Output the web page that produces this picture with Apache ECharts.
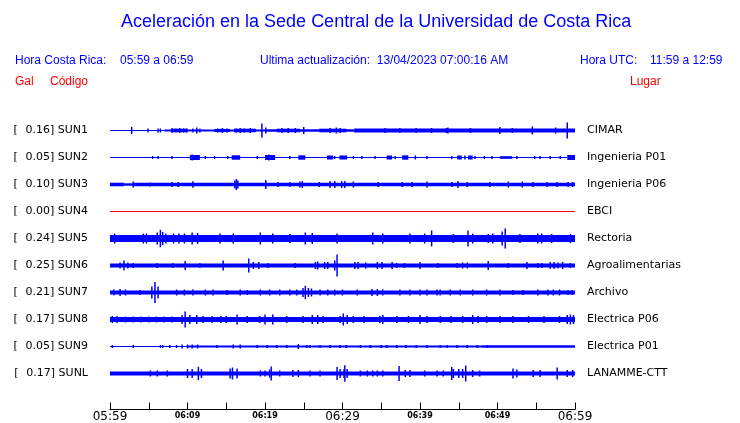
<!DOCTYPE html>
<html>
<head>
<meta charset="utf-8">
<script src="https://cdn.jsdelivr.net/npm/echarts@6/dist/echarts.min.js"></script>
<style>
  html, body { margin: 0; padding: 0; background: #fff; }
  #chart { width: 740px; height: 423px; }
</style>
</head>
<body>
<div id="chart"></div>
<script>
// estaciones (de arriba hacia abajo)
const codes = ['SUN1', 'SUN2', 'SUN3', 'SUN4', 'SUN5', 'SUN6', 'SUN7', 'SUN8', 'SUN9', 'SUNL'];
const gal = ['0.16', '0.05', '0.10', '0.00', '0.24', '0.25', '0.21', '0.17', '0.05', '0.17'];
const places = ['CIMAR', 'Ingenieria P01', 'Ingenieria P06', 'EBCI', 'Rectoria',
  'Agroalimentarias', 'Archivo', 'Electrica P06', 'Electrica P01', 'LANAMME-CTT'];
const traceColors = ['#0000ff', '#0000ff', '#0000ff', '#ff0000', '#0000ff',
  '#0000ff', '#0000ff', '#0000ff', '#0000ff', '#0000ff'];
// etiquetas del eje de tiempo, cada 10 minutos (minuto 0 = 05:59)
const tickLabels = ['05:59', '06:09', '06:19', '06:29', '06:39', '06:49', '06:59'];

// envolvente de fondo: [minuto inicio, minuto fin, semiamplitud]
// picos: [minuto, semiamplitud]
const sun1Bands = [[0, 7, 0.5], [7, 20, 0.9], [20, 31.5, 1.2], [31.5, 60, 2],
  [8, 10, 1.8], [13.5, 15.5, 1.6], [16, 18.8, 1.8], [21.5, 24.5, 1.8], [27, 30.5, 1.8]];
const sun1Spikes = [[2.8, 3.5], [4.9, 2], [6.2, 2], [6.5, 2], [8, 2.5], [8.5, 2], [9, 2.5], [9.5, 2],
  [9.9, 2], [10.7, 2], [11.2, 3], [11.6, 2], [13.9, 2], [14.5, 2.5], [15.1, 2], [16.3, 2], [16.8, 2.5],
  [17.3, 2], [18.1, 2.5], [19.6, 7], [20.1, 3], [22.2, 2.5], [23, 2.5], [23.9, 2.5], [25, 3.5],
  [28.4, 2.5], [29.2, 3], [29.7, 2.5], [35.5, 2.5], [37.4, 2.5], [39.5, 2.5], [41.5, 2.5], [43.4, 2.5],
  [43.6, 3], [46.5, 2.5], [50.3, 3.5], [51.9, 2.5], [54.5, 4], [57.5, 3], [59, 8]];

const sun2Bands = [[0, 59, 0.5], [59, 60, 2.5], [10.3, 11.6, 2.5], [15.7, 16.8, 2.2], [20, 21.3, 2.5],
  [24.3, 25.2, 2.2], [28, 28.8, 2], [29.6, 30.6, 2], [35.7, 36.4, 2], [37.7, 38.5, 2.2],
  [44.8, 45.4, 2], [46.2, 46.8, 2], [50.3, 51.9, 1.3]];
const sun2Spikes = [[5.5, 1.5], [6.2, 1.5], [8, 1.5], [10.6, 3], [12.3, 1.5], [13.5, 1.5], [15.2, 1.5],
  [19, 1.5], [20.5, 3], [23.2, 1.5], [29, 1.5], [31.4, 1.5], [32.5, 1.5], [34.2, 1.5], [36.8, 1.5],
  [39.4, 2], [40.9, 1.5], [44.1, 1.5], [45.8, 2], [47.1, 1.5], [48.3, 1.5], [49.3, 1.5], [52.5, 1.5],
  [54.8, 1.5], [55.5, 1.5], [56.8, 1.5], [58.1, 1.5]];

const sun3Bands = [[0, 1.8, 1.8], [1.8, 3, 1.2], [3, 60, 1.8]];
const sun3Spikes = [[3, 3], [5.2, 2], [8, 2.5], [8.8, 2.5], [10.7, 3.3], [16.1, 4], [16.3, 5.5],
  [16.5, 4], [20.1, 4.5], [21.7, 2.5], [23.2, 2.5], [24.5, 3], [24.8, 3.5], [27, 2.5], [28.4, 3.5],
  [29, 3.5], [29.9, 3.5], [30.3, 3.5], [31.4, 3], [34.6, 2.5], [37.7, 2.5], [39, 2.5], [40.9, 3],
  [44.1, 2.5], [44.9, 3.5], [46.1, 2.5], [49, 2.5], [51.4, 3], [53.2, 3], [54.6, 2.5], [56.4, 2.5],
  [57.7, 2.5], [59.1, 2.5], [59.7, 2.5]];

const sun4Bands = [[0, 60, 0.5]];
const sun4Spikes = [];

const sun5Bands = [[0, 60, 3.5]];
const sun5Spikes = [[0.6, 5], [4.3, 5], [4.7, 5], [6.1, 6], [6.5, 8.7], [6.8, 6.5], [7.2, 5],
  [8.2, 5], [8.9, 5], [9.6, 5], [10.6, 6], [11.3, 5.5], [14.2, 5], [15.9, 5], [19.4, 6], [21, 5],
  [23.2, 4.5], [25.2, 6], [26.1, 5.5], [29.3, 5], [33.9, 6], [35.2, 5], [38.7, 5], [40.6, 5],
  [41.5, 8], [44.3, 4.5], [46.2, 8], [46.8, 5], [48.8, 4.5], [49.4, 5], [50.6, 7], [51, 10],
  [52.9, 4.5], [55.2, 5], [55.7, 5], [57, 4.5], [59.4, 4.5]];

const sun6Bands = [[0, 60, 2]];
const sun6Spikes = [[1.3, 3], [1.8, 5], [2.3, 3], [3, 2.5], [6.1, 2.5], [8.1, 2.5], [9.7, 4.5],
  [11.6, 2.5], [14.6, 5], [17.9, 7], [18.5, 3.5], [19.2, 3.5], [20.4, 2.5], [23.9, 2.5], [26.5, 3.5],
  [26.8, 4], [27.7, 3.5], [28.1, 3.5], [29, 5], [29.3, 11], [31.6, 3.5], [32, 3.5], [33, 3],
  [34.5, 3.5], [35.1, 3.5], [36.4, 3.5], [37, 2.5], [38, 2.5], [40, 3.5], [42.3, 2.5], [44.8, 2.5],
  [45.5, 3], [46.1, 3], [48.8, 4.5], [51.4, 2.5], [53.8, 3.5], [55.2, 2.5], [55.7, 2.5], [56.8, 3.5],
  [57.3, 3.5], [57.8, 3], [58.4, 3.5], [59.4, 2.5]];

const sun7Bands = [[0, 60, 2]];
const sun7Spikes = [[0.5, 3], [1.3, 3.5], [2, 3], [3.9, 2.5], [5.4, 6], [5.8, 10.5], [6.2, 6],
  [8.6, 3], [9.6, 3], [10.7, 3], [12.3, 3], [13.3, 3], [15.1, 2.5], [16.8, 3], [17.7, 2.5], [19.4, 3],
  [20.6, 3], [21.9, 3], [23.2, 3], [24.1, 3], [24.9, 4.5], [25.2, 6.7], [25.6, 4.5], [26, 4],
  [27.1, 3], [28.1, 3], [29, 3], [30, 3], [31.9, 3], [33.8, 3.5], [34.5, 3.5], [35.2, 3], [37.4, 3],
  [38.7, 3], [40, 3], [40.9, 3], [42.2, 3], [42.6, 3], [43.9, 3], [45.2, 3], [46.8, 3], [48.6, 3],
  [50.3, 3], [52, 2.5], [53.3, 2.5], [55.2, 3], [56.5, 3], [57.2, 3], [58, 3], [59.1, 2.5], [59.6, 2.5]];

const sun8Bands = [[0, 60, 2.5]];
const sun8Spikes = [[0.3, 3.5], [0.9, 3.5], [2, 3], [3, 3], [4, 3], [5, 3], [6, 3], [7, 3], [8, 3],
  [9.3, 4.5], [9.7, 8], [10.3, 4.5], [11.2, 4.5], [12, 3.5], [13.2, 3.5], [14.3, 3.5], [15, 3.5],
  [16.4, 5], [17.7, 3.5], [19.3, 3.5], [20, 5], [21, 5], [22.8, 3.5], [24.9, 3.5], [26.1, 4.5],
  [26.8, 4.5], [27.5, 3.5], [29.7, 3.5], [30.1, 6], [30.6, 4.5], [31.4, 3.5], [32.8, 3.5], [34.8, 3.5],
  [35.2, 4.5], [37, 3.5], [38.5, 3.5], [40, 4.5], [40.9, 3.5], [42.6, 3.5], [44, 3.5], [45.5, 3.5],
  [46.8, 4.5], [47.5, 3.5], [48.6, 3.5], [50.3, 3.5], [52, 3.5], [54, 3.5], [56, 3.5], [58, 3.5],
  [59, 4.5], [59.4, 5], [59.8, 4.5]];

const sun9Bands = [[0, 10, 0.5], [10, 48, 0.9], [48, 60, 1.3]];
const sun9Spikes = [[0.3, 1.5], [3, 1.5], [6.5, 1.5], [6.8, 1.5], [7.7, 1.5], [8.6, 1.5], [9.3, 2],
  [10, 2], [10.6, 2], [11.3, 2], [13.8, 1.5], [15.9, 2], [16.8, 2], [19, 1.5], [20.3, 1.5], [21.5, 1.5],
  [22.8, 1.5], [24.3, 2.5], [25.4, 1.5], [25.8, 1.5], [27.1, 1.5], [28.4, 1.5], [29.7, 1.5], [30.5, 1.5],
  [32.3, 1.5], [33.6, 1.5], [35, 1.5], [35.7, 1.5], [37, 1.5], [38.2, 1.5], [39.5, 1.5], [40.9, 1.5],
  [42.6, 1.5], [43.5, 1.5], [44.8, 1.5], [46.1, 1.5], [47.4, 1.5], [48.7, 1.5]];

const sunLBands = [[0, 60, 2]];
const sunLSpikes = [[5.2, 3], [6.1, 3], [7.4, 3], [10, 4.5], [10.6, 4.5], [11.4, 6.7], [11.8, 4.5],
  [15.5, 5], [15.8, 6], [16.4, 5], [19.4, 3], [20, 3], [20.6, 4], [20.8, 7], [21.9, 3], [23.6, 3.5],
  [24.3, 3.5], [25.8, 3], [27.1, 3], [29.3, 6.5], [29.7, 4.5], [30.2, 4.5], [30.3, 8.3], [30.6, 4.5],
  [32.3, 3], [33.2, 3], [33.9, 3], [34.5, 3], [35.2, 3], [37.3, 7.5], [38.1, 3.5], [38.7, 3.5],
  [40.6, 3], [42.2, 3], [43, 3], [44.1, 6.5], [44.3, 4.5], [45, 4.5], [45.5, 4.5], [45.9, 8],
  [46.8, 3.5], [47.7, 3], [52, 5], [52.5, 4], [54.6, 3.5], [55.5, 3.5], [57.7, 6], [59, 3.5], [59.7, 3.5]];

const traceBands = [sun1Bands, sun2Bands, sun3Bands, sun4Bands, sun5Bands,
  sun6Bands, sun7Bands, sun8Bands, sun9Bands, sunLBands];
const traceSpikes = [sun1Spikes, sun2Spikes, sun3Spikes, sun4Spikes, sun5Spikes,
  sun6Spikes, sun7Spikes, sun8Spikes, sun9Spikes, sunLSpikes];

const ROW = 27; // separacion entre trazas, en unidades del eje
const BLUE = '#0000ff';
const RED = '#ff0000';

function traceSeries(i) {
  const off = i * ROW;
  const color = traceColors[i];
  const data = traceBands[i].concat(traceSpikes[i].map(s => [s[0], s[0], s[1]]));
  return {
    type: 'custom',
    silent: true,
    animation: false,
    encode: { x: [0, 1], y: 2 },
    data: data,
    renderItem: function (params, api) {
      const t0 = api.value(0), t1 = api.value(1), a = api.value(2);
      const p1 = api.coord([t0, off - a]);
      const p2 = api.coord([t1, off + a]);
      if (t0 === t1) {
        return {
          type: 'line',
          shape: { x1: p1[0], y1: p1[1], x2: p2[0], y2: p2[1] },
          style: { stroke: color, lineWidth: 1.5 }
        };
      }
      return {
        type: 'rect',
        shape: {
          x: p1[0], y: Math.min(p1[1], p2[1]),
          width: p2[0] - p1[0], height: Math.abs(p2[1] - p1[1])
        },
        style: { fill: color }
      };
    }
  };
}

function headerText(text, left, top, color) {
  return {
    text: text, left: left, top: top, padding: 0,
    textStyle: { fontFamily: 'Liberation Sans', fontSize: 12, fontWeight: 'normal', color: color }
  };
}

const chart = echarts.init(document.getElementById('chart'));

chart.setOption({
  backgroundColor: '#ffffff',
  animation: false,
  title: [
    {
      text: 'Aceleración en la Sede Central de la Universidad de Costa Rica',
      left: 121, top: 13, padding: 0,
      textStyle: { fontFamily: 'Liberation Sans', fontSize: 18, fontWeight: 'normal', color: BLUE }
    },
    headerText('Hora Costa Rica:', 15, 55, BLUE),
    headerText('05:59 a 06:59', 120, 55, BLUE),
    headerText('Ultima actualización:  13/04/2023 07:00:16 AM', 260, 55, BLUE),
    headerText('Hora UTC:', 580, 55, BLUE),
    headerText('11:59 a 12:59', 650, 55, BLUE),
    headerText('Gal', 15, 76, RED),
    headerText('Código', 50, 76, RED),
    headerText('Lugar', 630, 76, RED)
  ],
  grid: { left: 110, width: 465, top: 103.5, height: 306, outerBoundsMode: 'none' },
  xAxis: {
    type: 'value',
    min: 0, max: 60, interval: 5,
    axisLine: { onZero: false, lineStyle: { color: '#000', width: 1 } },
    axisTick: { inside: true, length: 7, lineStyle: { color: '#000' } },
    splitLine: { show: false },
    axisLabel: {
      margin: 1,
      color: '#000',
      formatter: function (v) {
        if (v % 10 !== 0) return '';
        const lab = tickLabels[v / 10];
        return v % 30 === 0 ? '{big|' + lab + '}' : '{small|' + lab + '}';
      },
      rich: {
        big: { fontFamily: 'DejaVu Sans', fontSize: 12, color: '#000' },
        small: { fontFamily: 'DejaVu Sans', fontSize: 8, fontWeight: 'bold', color: '#000', padding: [1, 0, 0, 0] }
      }
    }
  },
  yAxis: [
    {
      type: 'value', inverse: true,
      min: -ROW, max: 10 * ROW + 9, interval: ROW,
      axisLine: { show: false }, axisTick: { show: false }, splitLine: { show: false },
      axisLabel: {
        margin: 22,
        formatter: function (v) {
          const i = Math.round(v / ROW);
          if (i < 0 || i >= codes.length) return '';
          return '{br|[}{txt|' + gal[i] + '] ' + codes[i] + '}';
        },
        rich: {
          br: { fontFamily: 'DejaVu Sans', fontSize: 11, color: '#000', width: 12, align: 'left' },
          txt: { fontFamily: 'DejaVu Sans', fontSize: 11, color: '#000' }
        }
      }
    },
    {
      type: 'value', inverse: true, position: 'right',
      min: -ROW, max: 10 * ROW + 9, interval: ROW,
      axisLine: { show: false }, axisTick: { show: false }, splitLine: { show: false },
      axisLabel: {
        margin: 12,
        fontFamily: 'DejaVu Sans', fontSize: 11, color: '#000',
        formatter: function (v) {
          const i = Math.round(v / ROW);
          return (i < 0 || i >= places.length) ? '' : places[i];
        }
      }
    }
  ],
  series: codes.map((c, i) => traceSeries(i))
});
</script>
</body>
</html>
